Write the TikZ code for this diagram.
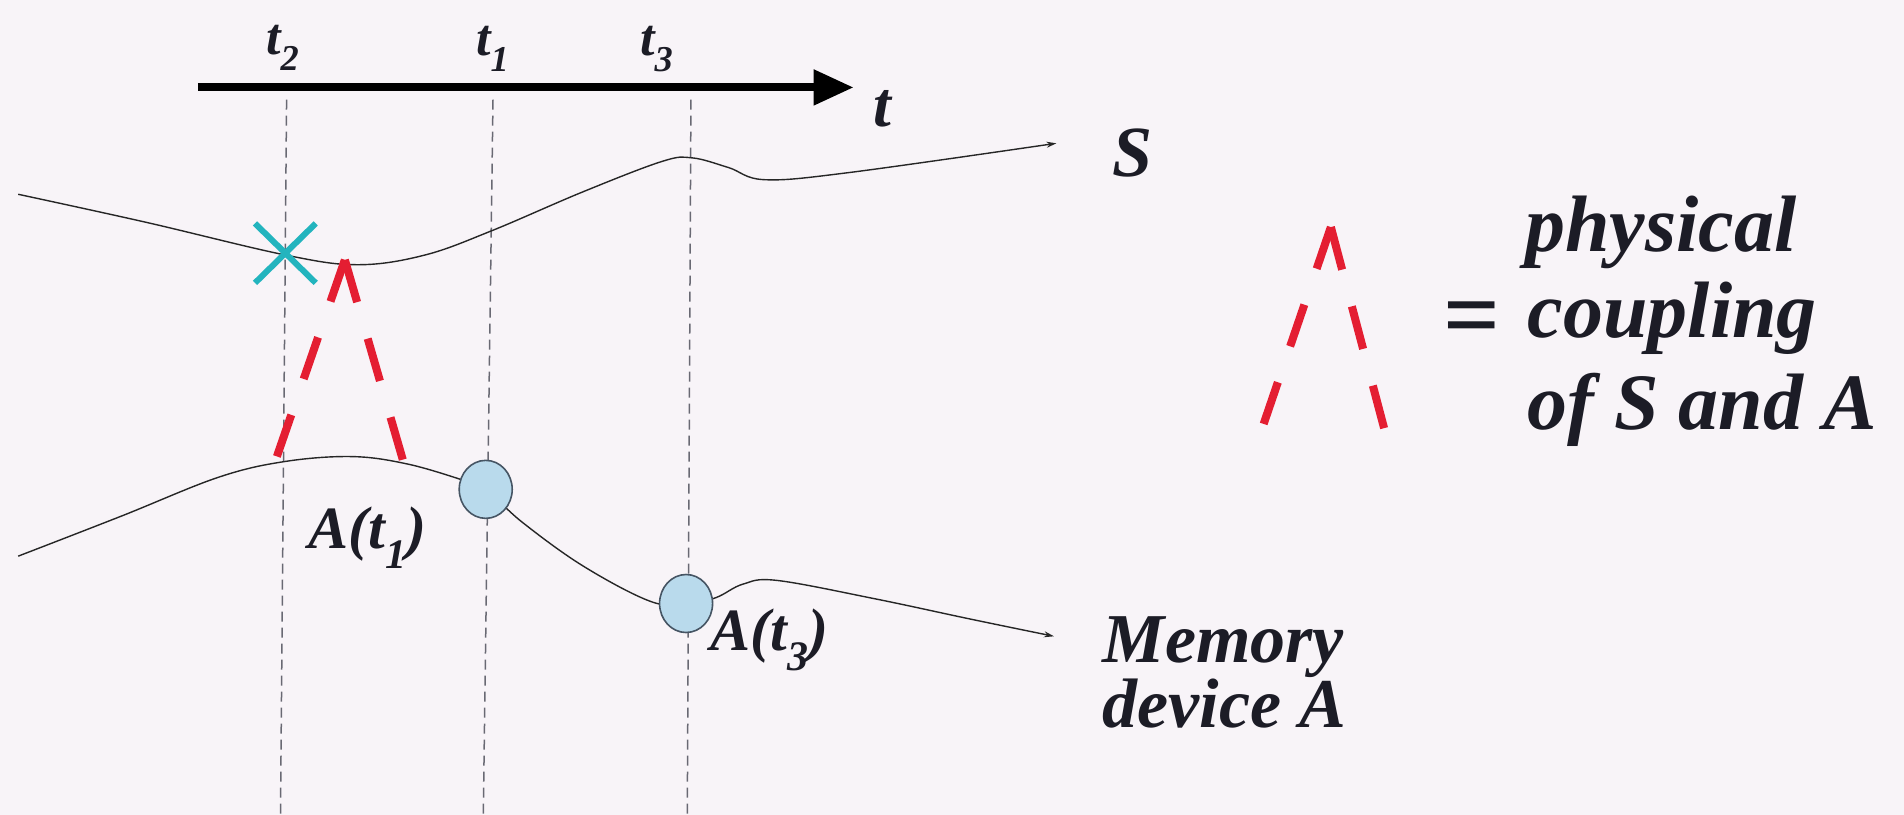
\documentclass[tikz,border=0pt]{standalone}
\usepackage{fontspec}
\setmainfont{Liberation Serif}
\usetikzlibrary{arrows.meta,shapes.geometric}
\definecolor{bgc}{RGB}{248,244,248}
\definecolor{cpl}{RGB}{228,30,50}
\definecolor{xcol}{RGB}{35,180,190}
\definecolor{dotfill}{RGB}{185,218,236}
\definecolor{dotline}{RGB}{70,85,100}
\definecolor{guide}{RGB}{105,105,115}
\definecolor{ink}{RGB}{28,28,38}
\begin{document}
\begin{tikzpicture}[x=1.2143pt,y=-1.2143pt,
  guideline/.style={draw=guide, line width=1.5pt, dash pattern=on 10pt off 6pt},
  track/.style={draw=black!85, line width=1.4pt, -{Stealth[length=10pt,width=6pt]}},
  couple/.style={draw=cpl, line width=8pt, dash pattern=on 44pt off 38pt},
  xmark/.style={draw=xcol, line width=6pt},
  memdot/.style={ellipse, draw=dotline, line width=1.6pt, fill=dotfill, minimum width=53pt, minimum height=58pt, inner sep=0pt},
  tlbl/.style={text=ink, font=\fontsize{52}{60}\selectfont\bfseries\itshape, inner sep=0pt, anchor=base west},
  lbl/.style={text=ink, font=\fontsize{62}{61}\selectfont\bfseries\itshape, inner sep=0pt, anchor=base west},
  leg/.style={text=ink, font=\fontsize{80}{92}\selectfont\bfseries\itshape, inner sep=0pt, anchor=base west},
]
\fill[bgc] (0,0) rectangle (1568,671);
\useasboundingbox (0,0) rectangle (1568,671);

% time axis
\coordinate (ax0) at (163,72);
\coordinate (ax1) at (703,72);
\draw[line width=8pt, -{Triangle[length=40pt,width=34pt]}] (ax0) -- (ax1);
\node[tlbl, font=\fontsize{64}{70}\selectfont\bfseries\itshape] (tax) at (719,104) {t};
\node[tlbl] (tt2) at (219,45) {t\textsubscript{2}};
\node[tlbl] (tt1) at (392,46) {t\textsubscript{1}};
\node[tlbl] (tt3) at (527,46) {t\textsubscript{3}};

% guide lines
\coordinate (g2a) at (236,82);  \coordinate (g2b) at (231,671);
\coordinate (g1a) at (406,82);  \coordinate (g1b) at (398,671);
\coordinate (g3a) at (569,82);  \coordinate (g3b) at (566,671);
\draw[guideline] (g2a) -- (g2b);
\draw[guideline] (g1a) -- (g1b);
\draw[guideline] (g3a) -- (g3b);

% system S
\draw[track] plot[smooth, tension=0.6] coordinates {(15,160) (120,183) (235,210) (295,218) (350,210) (405,190) (480,158) (545,133) (570,130) (600,138) (630,148) (700,142) (870,118)};
\node[lbl, font=\fontsize{72}{80}\selectfont\bfseries\itshape] (S) at (916,145) {S};

% memory device A
\draw[track] plot[smooth, tension=0.6] coordinates {(15,458) (100,425) (180,393) (235,380) (290,376) (335,382) (380,395) (400,403) (430,430) (480,466) (535,495) (566,498) (590,492) (612,481) (640,478) (720,493) (800,510) (868,524)};
\node[memdot] (m1) at (400,403) {};
\node[memdot] (m3) at (565,497) {};
\node[lbl, font=\fontsize{60}{61}\selectfont\bfseries\itshape] (At1) at (254,452) {A(t\textsubscript{1})};
\node[lbl, font=\fontsize{60}{61}\selectfont\bfseries\itshape] (At3) at (585,536) {A(t\textsubscript{3})};
\node[lbl, font=\fontsize{70}{61}\selectfont\bfseries\itshape, align=left] (mem) at (908,599) {Memory\\device A};

% cross
\coordinate (xa) at (210,184); \coordinate (xb) at (260,233);
\coordinate (xc) at (260,184); \coordinate (xd) at (210,233);
\draw[xmark] (xa) -- (xb);
\draw[xmark] (xc) -- (xd);

% coupling
\coordinate (cap) at (284,214);
\coordinate (cl) at (228,376);
\coordinate (cr) at (333,383);
\draw[couple] (cap) -- (cl);
\draw[couple] (cap) -- (cr);

% legend
\coordinate (lap) at (1096,187);
\coordinate (ll) at (1040,351);
\coordinate (lr) at (1141,357);
\draw[couple] (lap) -- (ll);
\draw[couple] (lap) -- (lr);
\node[text=ink, font=\fontsize{100}{100}\selectfont\bfseries, inner sep=0pt] (eq) at (1212,268) {=};
\node[leg] (p1) at (1256,207) {physical};
\node[leg] (p2) at (1258,278) {coupling};
\node[leg] (p3) at (1258,354) {of S and A};
\end{tikzpicture}
\end{document}
